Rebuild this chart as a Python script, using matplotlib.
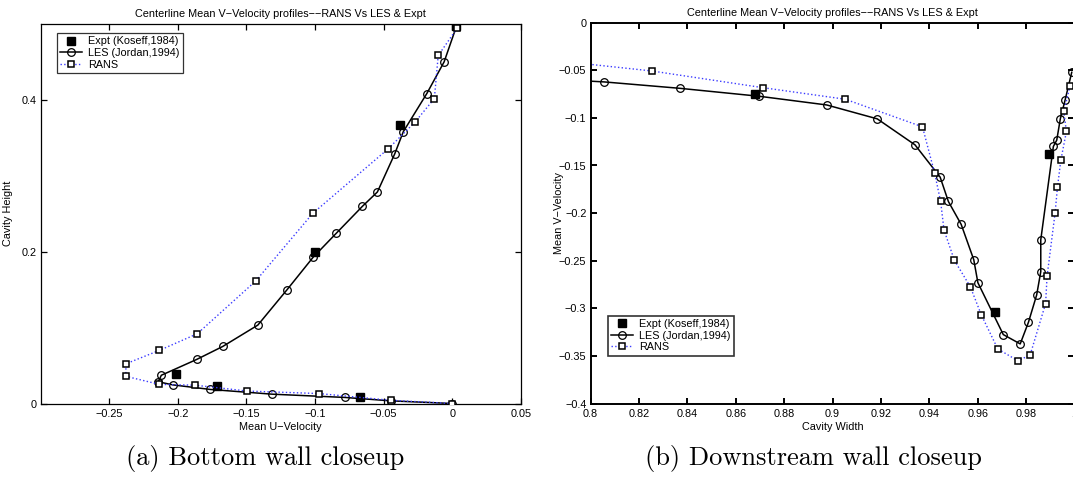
import matplotlib
matplotlib.use("Agg")
import matplotlib.pyplot as plt
from matplotlib.lines import Line2D

plt.rcParams['font.family'] = ['Liberation Sans', 'DejaVu Sans']
plt.rcParams['axes.unicode_minus'] = True

MINUS = '\u2212'
TITLE = 'Centerline Mean V' + MINUS + 'Velocity profiles' + MINUS + MINUS + 'RANS Vs LES & Expt'

# ---------------- (a) Bottom wall closeup ----------------
a_expt_u = [0.003, -0.038, -0.0997, -0.2012, -0.1714, -0.0676]
a_expt_y = [0.497, 0.3666, 0.1991, 0.0395, 0.0228, 0.0082]

a_les_u = [0.003, -0.006, -0.0186, -0.0357, -0.042, -0.0546, -0.0655, -0.0846, -0.1015,
           -0.1206, -0.1417, -0.1672, -0.1863, -0.212, -0.2142, -0.2035, -0.1762,
           -0.1315, -0.0784, -0.0450, 0.0]
a_les_y = [0.497, 0.4501, 0.4084, 0.3582, 0.3288, 0.2787, 0.2598, 0.2242, 0.1925,
           0.1495, 0.1033, 0.0752, 0.0580, 0.0372, 0.0286, 0.0245, 0.0185,
           0.0123, 0.0080, 0.0035, 0.0]

a_rans_u = [0.0035, -0.0103, -0.0131, -0.0269, -0.0466, -0.1017, -0.1433, -0.1858, -0.2134,
            -0.2378, -0.2378, -0.2134, -0.1874, -0.1494, -0.0972, -0.0448, 0.0]
a_rans_y = [0.4945, 0.4585, 0.4018, 0.3714, 0.3358, 0.2505, 0.1613, 0.0919, 0.0700,
            0.0523, 0.0358, 0.0252, 0.0241, 0.0164, 0.0131, 0.0042, 0.0]

a_xticks = [-0.25, -0.2, -0.15, -0.1, -0.05, 0.0, 0.05]
a_xticklabels = [MINUS + '0.25', MINUS + '0.2', MINUS + '0.15', MINUS + '0.1', MINUS + '0.05', '0', '0.05']
a_yticks = [0.0, 0.2, 0.4]
a_yticklabels = ['0', '0.2', '0.4']

# ---------------- (b) Downstream wall closeup ----------------
b_expt_x = [0.868, 0.967, 0.9896]
b_expt_v = [-0.0752, -0.3038, -0.1381]

b_les_x = [0.775, 0.8056, 0.8368, 0.8698, 0.8976, 0.9185, 0.9341, 0.9445, 0.9479, 0.9532,
           0.9584, 0.9601, 0.9706, 0.9776, 0.9810, 0.9844, 0.9861, 0.9861, 0.9913,
           0.9927, 0.9942, 0.9962, 0.9989]
b_les_v = [-0.058, -0.0622, -0.0689, -0.0773, -0.0864, -0.1010, -0.1283, -0.1622, -0.1878, -0.2119,
           -0.2490, -0.2731, -0.3276, -0.3374, -0.3147, -0.2860, -0.2615, -0.2280, -0.1300,
           -0.1234, -0.1007, -0.0808, -0.0521]

b_rans_x = [0.775, 0.8253, 0.8711, 0.9053, 0.9372, 0.9422, 0.9447, 0.9461, 0.9504, 0.9570,
            0.9615, 0.9683, 0.9766, 0.9817, 0.9881, 0.9887, 0.9920, 0.9930, 0.9944,
            0.9967, 0.9956, 0.9982]
b_rans_v = [-0.037, -0.0507, -0.0682, -0.0804, -0.1094, -0.1578, -0.1878, -0.2178, -0.2497, -0.2775,
            -0.3068, -0.3426, -0.3551, -0.3491, -0.2950, -0.2665, -0.2002, -0.1729, -0.1443,
            -0.1142, -0.0930, -0.0668]

b_xticks = [0.8, 0.82, 0.84, 0.86, 0.88, 0.9, 0.92, 0.94, 0.96, 0.98, 1.0]
b_xticklabels = ['0.8', '0.82', '0.84', '0.86', '0.88', '0.9', '0.92', '0.94', '0.96', '0.98', '1']
b_yticks = [0.0, -0.05, -0.1, -0.15, -0.2, -0.25, -0.3, -0.35, -0.4]
b_yticklabels = ['0', MINUS + '0.05', MINUS + '0.1', MINUS + '0.15', MINUS + '0.2',
                 MINUS + '0.25', MINUS + '0.3', MINUS + '0.35', MINUS + '0.4']

legend_labels = ['Expt (Koseff,1984)', 'LES (Jordan,1994)', 'RANS']

W, H = 1073, 483
fig = plt.figure(figsize=(W / 100, H / 100), dpi=100)

FS = 7.8


def frac(x0, x1, ytop, ybot):
    return [x0 / W, 1 - ybot / H, (x1 - x0) / W, (ybot - ytop) / H]


def style(ax, lw):
    for s in ax.spines.values():
        s.set_linewidth(lw)
        s.set_color('black')
    ax.tick_params(direction='in', length=4, width=lw, top=True, right=True,
                   labelsize=FS, pad=3, colors='black')
    ax.tick_params(axis='x', pad=4)


def draw(ax, ex, ey, lx, ly, rx, ry):
    ax.plot(ex, ey, linestyle='none', marker='s', markersize=5.2, color='black',
            markerfacecolor='black', markeredgecolor='black', zorder=3)
    ax.plot(lx, ly, '-', color='black', linewidth=1.1, marker='o', markersize=5.5,
            markerfacecolor='none', markeredgecolor='black', markeredgewidth=0.9, zorder=4)
    ax.plot(rx, ry, linestyle=':', color='#3b3bff', linewidth=1.0, zorder=5)
    ax.plot(rx, ry, linestyle='none', marker='s', markersize=4.0, markerfacecolor='white',
            markeredgecolor='black', markeredgewidth=1.1, zorder=6)


def legend_handles():
    h1 = Line2D([], [], linestyle='none', marker='s', markersize=5.2, color='black')
    h2 = Line2D([], [], linestyle='-', color='black', linewidth=1.1, marker='o', markersize=5.5,
                markerfacecolor='none', markeredgecolor='black', markeredgewidth=0.9)
    h3 = Line2D([], [], linestyle=':', color='#3b3bff', linewidth=1.0, marker='s', markersize=4.0,
                markerfacecolor='white', markeredgecolor='black', markeredgewidth=1.1)
    return [h1, h2, h3]


# Left axes
ax1 = fig.add_axes(frac(40.5, 521.0, 24.0, 403.5))
draw(ax1, a_expt_u, a_expt_y, a_les_u, a_les_y, a_rans_u, a_rans_y)
ax1.set_xlim(-0.3, 0.05)
ax1.set_ylim(0, 0.5)
ax1.set_xticks(a_xticks)
ax1.set_xticklabels(a_xticklabels)
ax1.set_yticks(a_yticks)
ax1.set_yticklabels(a_yticklabels)
style(ax1, 0.9)
ax1.set_title(TITLE, fontsize=FS, pad=5)
ax1.set_xlabel('Mean U' + MINUS + 'Velocity', fontsize=FS, labelpad=2)
ax1.set_ylabel('Cavity Height', fontsize=FS)
ax1.yaxis.set_label_coords(-0.058, 0.5)
leg1 = ax1.legend(legend_handles(), legend_labels, loc='upper left',
                  bbox_to_anchor=(0.034, 0.976), fontsize=FS, frameon=True, fancybox=False,
                  edgecolor='black', borderpad=0.3, handlelength=2.0, handletextpad=0.6,
                  labelspacing=0.15, borderaxespad=0.0)
leg1.get_frame().set_linewidth(0.9)

# Right axes
ax2 = fig.add_axes(frac(590.6, 1074.4, 22.7, 403.5))
draw(ax2, b_expt_x, b_expt_v, b_les_x, b_les_v, b_rans_x, b_rans_v)
ax2.set_xlim(0.8, 1.0)
ax2.set_ylim(-0.4, 0)
ax2.set_xticks(b_xticks)
ax2.set_xticklabels(b_xticklabels)
ax2.set_yticks(b_yticks)
ax2.set_yticklabels(b_yticklabels)
style(ax2, 1.4)
ax2.set_title(TITLE, fontsize=FS, pad=5)
ax2.set_xlabel('Cavity Width', fontsize=FS, labelpad=2)
ax2.set_ylabel('Mean V' + MINUS + 'Velocity', fontsize=FS)
ax2.yaxis.set_label_coords(-0.056, 0.5)
leg2 = ax2.legend(legend_handles(), legend_labels, loc='lower left',
                  bbox_to_anchor=(0.036, 0.126), fontsize=FS, frameon=True, fancybox=False,
                  edgecolor='black', borderpad=0.3, handlelength=2.0, handletextpad=0.6,
                  labelspacing=0.15, borderaxespad=0.0)
leg2.get_frame().set_linewidth(1.2)

# Sub-captions
fig.text(265.5 / W, 1 - 459 / H, '(a) Bottom wall closeup', family='cmr10', fontsize=19,
         ha='center', va='center')
fig.text(813.5 / W, 1 - 459 / H, '(b) Downstream wall closeup', family='cmr10', fontsize=19,
         ha='center', va='center')

fig.savefig('out.png', dpi=100, facecolor='white')
